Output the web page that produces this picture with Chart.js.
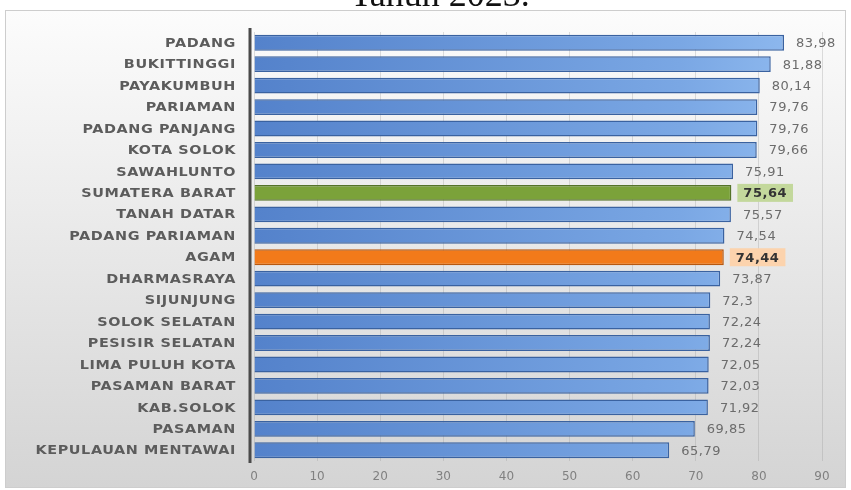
<!DOCTYPE html>
<html>
<head>
<meta charset="utf-8">
<script src="https://cdn.jsdelivr.net/npm/chart.js@4"></script>
<style>
  html, body { margin: 0; padding: 0; background: #fff; }
  #wrap { width: 851px; height: 490px; }
</style>
</head>
<body>
<div id="wrap"><canvas id="bar-chart" width="851" height="490"></canvas></div>
<script>
// data
var regions = ['PADANG', 'BUKITTINGGI', 'PAYAKUMBUH', 'PARIAMAN', 'PADANG PANJANG', 'KOTA SOLOK',
    'SAWAHLUNTO', 'SUMATERA BARAT', 'TANAH DATAR', 'PADANG PARIAMAN', 'AGAM', 'DHARMASRAYA',
    'SIJUNJUNG', 'SOLOK SELATAN', 'PESISIR SELATAN', 'LIMA PULUH KOTA', 'PASAMAN BARAT',
    'KAB.SOLOK', 'PASAMAN', 'KEPULAUAN MENTAWAI'];
var values = [83.98, 81.88, 80.14, 79.76, 79.76, 79.66, 75.91, 75.64, 75.57, 74.54, 74.44, 73.87,
    72.3, 72.24, 72.24, 72.05, 72.03, 71.92, 69.85, 65.79];
var xTicks = [0, 10, 20, 30, 40, 50, 60, 70, 80, 90];
var titleText = 'Tahun 2023.';

var highlight = { 'SUMATERA BARAT': 'green', 'AGAM': 'orange' };
var fills = { green: '#7ba23a', orange: '#f27a1a' };
var borders = { blue: '#3a62a0', green: '#55732a', orange: '#b8580f' };
var labelBg = { green: '#c3d89c', orange: '#fcd3ad' };

function kind(i) { return highlight[regions[i]] || 'blue'; }

function barFill(c) {
    var k = kind(c.dataIndex);
    if (k !== 'blue') return fills[k];
    var area = c.chart.chartArea;
    if (!area) return '#6593d6';
    var g = c.chart.ctx.createLinearGradient(area.left, 0, area.right, 0);
    g.addColorStop(0, '#5482cb');
    g.addColorStop(0.75, '#7aa7e4');
    g.addColorStop(1, '#93bdf1');
    return g;
}

var backdrop = {
    id: 'backdrop',
    beforeDraw: function(chart) {
        var ctx = chart.ctx;
        ctx.save();
        var g = ctx.createLinearGradient(0, 10, 0, 488);
        g.addColorStop(0, '#fcfcfc');
        g.addColorStop(1, '#d4d4d4');
        ctx.fillStyle = g;
        ctx.fillRect(5, 10, 841, 478);
        ctx.strokeStyle = '#cdcdcd';
        ctx.lineWidth = 1;
        ctx.strokeRect(5.5, 10.5, 840, 477);
        // title, mostly cut off by the top edge
        ctx.fillStyle = '#111';
        ctx.font = '36px "Liberation Serif", serif';
        ctx.textAlign = 'center';
        ctx.textBaseline = 'alphabetic';
        ctx.fillText(titleText, 440, 6);
        ctx.restore();
    }
};

var axisAndLabels = {
    id: 'axisAndLabels',
    afterDatasetsDraw: function(chart) {
        var ctx = chart.ctx;
        var area = chart.chartArea;
        var meta = chart.getDatasetMeta(0);
        var yScale = chart.scales.y;
        ctx.save();
        // dark category axis line
        ctx.strokeStyle = '#4a4a4a';
        ctx.lineWidth = 3;
        ctx.beginPath();
        ctx.moveTo(area.left - 4, area.top - 4);
        ctx.lineTo(area.left - 4, area.bottom + 2);
        ctx.stroke();

        // category labels, a little stretched sideways like the original
        ctx.textBaseline = 'middle';
        ctx.textAlign = 'right';
        ctx.font = 'bold 12px "DejaVu Sans", sans-serif';
        ctx.letterSpacing = '0.5px';
        ctx.fillStyle = '#5c5c5c';
        chart.data.labels.forEach(function(lab, i) {
            ctx.save();
            ctx.translate(236, yScale.getPixelForValue(i) + 1);
            ctx.scale(1.2, 1);
            ctx.fillText(lab, 0, 0);
            ctx.restore();
        });

        // value labels
        ctx.textAlign = 'left';
        ctx.letterSpacing = '0.5px';
        meta.data.forEach(function(bar, i) {
            var txt = String(values[i]).replace('.', ',');
            var k = kind(i);
            var x = bar.x + 12;
            var y = bar.y;
            if (k !== 'blue') {
                ctx.font = 'bold 13px "DejaVu Sans", sans-serif';
                var w = ctx.measureText(txt).width;
                ctx.fillStyle = labelBg[k];
                ctx.fillRect(x - 6, y - 9, w + 12, 18);
                ctx.fillStyle = '#333';
            } else {
                ctx.font = '13px "DejaVu Sans", sans-serif';
                ctx.fillStyle = '#6c6c6c';
            }
            ctx.fillText(txt, x, y + 1);
        });
        ctx.restore();
    }
};

new Chart(document.getElementById('bar-chart'), {
    type: 'bar',
    data: {
        labels: regions,
        datasets: [{
            data: values,
            backgroundColor: barFill,
            borderColor: values.map(function(v, i) { return borders[kind(i)]; }),
            borderWidth: 1.5,
            barPercentage: 0.74,
            categoryPercentage: 1
        }]
    },
    options: {
        indexAxis: 'y',
        responsive: false,
        animation: false,
        layout: { padding: { top: 32, right: 29, bottom: 0, left: 0 } },
        plugins: {
            legend: { display: false },
            tooltip: { enabled: false }
        },
        scales: {
            x: {
                min: 0,
                max: 90,
                afterBuildTicks: function(axis) {
                    axis.ticks = xTicks.map(function(v) { return { value: v }; });
                },
                afterFit: function(axis) { axis.height = 29; },
                grid: { color: 'rgba(150,150,150,0.3)', drawTicks: false },
                border: { display: false },
                ticks: {
                    padding: 9,
                    color: '#808080',
                    font: { family: '"DejaVu Sans", sans-serif', size: 12 }
                }
            },
            y: {
                afterFit: function(axis) { axis.width = 254; },
                grid: { display: false },
                border: { display: false },
                ticks: { display: false }
            }
        }
    },
    plugins: [backdrop, axisAndLabels]
});
</script>
</body>
</html>
